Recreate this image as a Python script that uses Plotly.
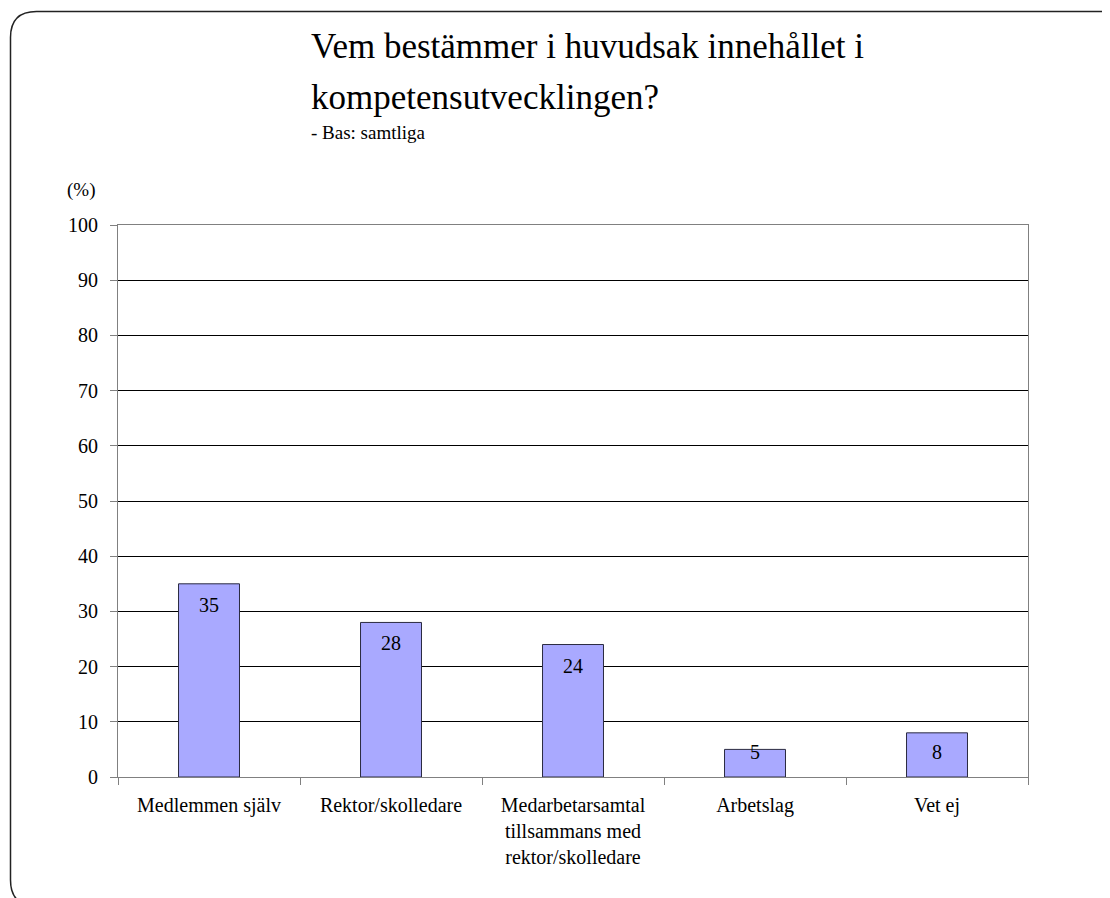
import plotly.graph_objects as go

categories = ["Medlemmen själv", "Rektor/skolledare",
              "Medarbetarsamtal<br>tillsammans med<br>rektor/skolledare",
              "Arbetslag", "Vet ej"]
values = [35, 28, 24, 5, 8]
y_ticks = list(range(0, 101, 10))

title_line1 = "Vem bestämmer i huvudsak innehållet i"
title_line2 = "kompetensutvecklingen?"
subtitle = "- Bas: samtliga"
unit_label = "(%)"

OFF = 8  # page body margin
W, H = 1110 - OFF, 898 - OFF
L, R, T, B = 118 - OFF, 1028 - OFF, 225 - OFF, 777 - OFF
FONT = "'Liberation Serif', 'Times New Roman', Times, serif"


def px(x):  # screen px -> paper
    return (x - OFF - L) / (R - L)


def py(y):
    return (B - (y - OFF)) / (B - T)


fig = go.Figure()
fig.add_trace(go.Bar(
    x=categories, y=values,
    marker=dict(color="#A9A9FF", line=dict(color="#2a2a40", width=1)),
    hoverinfo="skip",
))

# data labels just inside bar tops
pxu = (B - T) / 100.0
for c, v in zip(categories, values):
    shift = -min(21, max(v * pxu - 25, 3))
    fig.add_annotation(x=c, y=v, xref="x", yref="y", text=str(v),
                       showarrow=False, yanchor="middle", yshift=shift,
                       font=dict(family=FONT, size=20, color="black"))

# titles
fig.add_annotation(x=px(309), y=py(47), xref="paper", yref="paper", text=title_line1,
                   showarrow=False, xanchor="left", yanchor="middle",
                   font=dict(family=FONT, size=35, color="black"))
fig.add_annotation(x=px(309), y=py(97), xref="paper", yref="paper", text=title_line2,
                   showarrow=False, xanchor="left", yanchor="middle",
                   font=dict(family=FONT, size=35, color="black"))
fig.add_annotation(x=px(309), y=py(133), xref="paper", yref="paper", text=subtitle,
                   showarrow=False, xanchor="left", yanchor="middle",
                   font=dict(family=FONT, size=19, color="black"))
fig.add_annotation(x=px(81), y=py(190), xref="paper", yref="paper", text=unit_label,
                   showarrow=False, xanchor="center", yanchor="middle",
                   font=dict(family=FONT, size=19, color="black"))

# rounded frame (screen coords)
l, t, r, b, rad = 10.5, 11.5, 1126, 906, 26
def P(x, y):
    return f"{px(x):.5f},{py(y):.5f}"
path = (f"M {P(l, t+rad)} Q {P(l, t)} {P(l+rad, t)} L {P(r-rad, t)} Q {P(r, t)} {P(r, t+rad)} "
        f"L {P(r, b-rad)} Q {P(r, b)} {P(r-rad, b)} L {P(l+rad, b)} Q {P(l, b)} {P(l, b-rad)} Z")
fig.add_shape(type="path", path=path, xref="paper", yref="paper",
              line=dict(color="#222222", width=1.5), layer="above")

fig.update_layout(
    width=W, height=H,
    margin=dict(l=L, r=W - R, t=T, b=H - B),
    paper_bgcolor="white", plot_bgcolor="white",
    showlegend=False, bargap=0.665,
    font=dict(family=FONT, size=20, color="black"),
    xaxis=dict(type="category", tickson="boundaries", ticks="outside", ticklen=7,
               tickcolor="#808080", showline=True, linecolor="#808080", linewidth=1,
               mirror=True, showgrid=False, tickfont=dict(family=FONT, size=20),
               ticklabelstandoff=10),
    yaxis=dict(range=[0, 100], tickvals=y_ticks, ticks="outside", ticklen=7,
               tickcolor="#808080", showline=True, linecolor="#808080", linewidth=1,
               mirror=True, showgrid=True, gridcolor="black", gridwidth=1,
               zeroline=False, tickfont=dict(family=FONT, size=20),
               ticklabelstandoff=8, fixedrange=True),
)

fig.write_html("out.html")
